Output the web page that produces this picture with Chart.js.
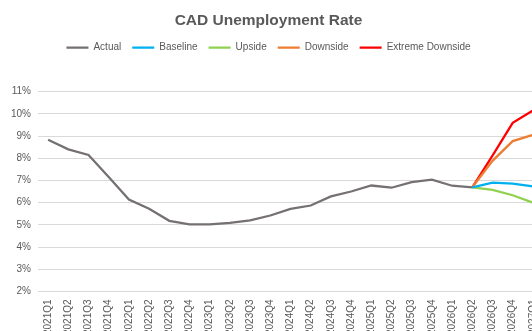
<!DOCTYPE html>
<html>
<head>
<meta charset="utf-8">
<script src="https://cdn.jsdelivr.net/npm/chart.js@4.4.1/dist/chart.umd.min.js"></script>
<style>
  html, body { margin: 0; padding: 0; background: #fff; overflow: hidden; }
  #wrap { position: relative; width: 532px; height: 331px; overflow: hidden; }
  #wrap canvas { position: absolute; left: 0; top: 0; }
</style>
</head>
<body>
<div id="wrap"><canvas id="chart" width="543" height="343"></canvas></div>
<script>
const quarters = [
  '2021Q1', '2021Q2', '2021Q3', '2021Q4', '2022Q1', '2022Q2', '2022Q3', '2022Q4',
  '2023Q1', '2023Q2', '2023Q3', '2023Q4', '2024Q1', '2024Q2', '2024Q3', '2024Q4',
  '2025Q1', '2025Q2', '2025Q3', '2025Q4', '2026Q1', '2026Q2', '2026Q3', '2026Q4', '2027Q1'
]
const forecastQuarters = ['2026Q2', '2026Q3', '2026Q4', '2027Q1']

// percent
const actual = [
  8.83, 8.4, 8.15, 7.15, 6.14, 5.72, 5.18, 5.02,
  5.02, 5.09, 5.2, 5.42, 5.72, 5.87, 6.28, 6.5,
  6.77, 6.67, 6.92, 7.03, 6.76, 6.69
]
const baseline = [6.69, 6.9, 6.85, 6.73]
const upside = [6.69, 6.57, 6.33, 6.0]
const downside = [6.69, 7.88, 8.77, 9.05]
const extremeDownside = [6.69, 8.12, 9.59, 10.15]

const yTicks = [2, 3, 4, 5, 6, 7, 8, 9, 10, 11]

const textColor = '#595959'
const gridColor = '#d9d9d9'
const fontFamily = '"Liberation Sans", Arial, sans-serif'

const forecast = values => values.map((v, i) => ({x: forecastQuarters[i], y: v}))

const line = (label, data, color) => ({
  label,
  data,
  borderColor: color,
  backgroundColor: color,
  borderWidth: 2.25,
  pointRadius: 0,
  tension: 0,
  fill: false
})

// the picture is cut off on the right, so the plot runs past the window;
// nudge title and legend back so they stay centred on the visible part
const shiftHeader = {
  id: 'shiftHeader',
  beforeInit(chart) {
    const fit = chart.legend.fit
    chart.legend.fit = function () {
      fit.bind(chart.legend)()
      this.height += 29
    }
  },
  afterLayout(chart) {
    const dx = -5
    for (const box of [chart.titleBlock, chart.legend]) {
      if (!box) continue
      box.left += dx
      box.right += dx
    }
  }
}

Chart.defaults.font.family = fontFamily
Chart.defaults.color = textColor

new Chart(document.getElementById('chart').getContext('2d'), {
  type: 'line',
  data: {
    labels: quarters,
    datasets: [
      line('Actual', actual, '#767171'),
      line('Baseline', forecast(baseline), '#00b0f0'),
      line('Upside', forecast(upside), '#92d050'),
      line('Downside', forecast(downside), '#ed7d31'),
      line('Extreme Downside', forecast(extremeDownside), '#ff0000')
    ]
  },
  options: {
    responsive: false,
    animation: false,
    layout: {
      autoPadding: false,
      padding: {left: 4, right: 0, top: 0, bottom: 0}
    },
    plugins: {
      title: {
        display: true,
        text: 'CAD Unemployment Rate',
        color: textColor,
        font: {size: 15.5, weight: 'bold', family: fontFamily},
        padding: {top: 11, bottom: 2}
      },
      legend: {
        position: 'top',
        labels: {
          usePointStyle: true,
          pointStyle: 'line',
          pointStyleWidth: 22,
          boxHeight: 10,
          padding: 11,
          color: textColor,
          font: {size: 10, family: fontFamily}
        }
      },
      tooltip: {enabled: false}
    },
    scales: {
      x: {
        offset: true,
        grid: {display: false, drawTicks: false},
        border: {display: false},
        afterFit: axis => {
          axis.paddingLeft = 0
          axis.paddingRight = 0
        },
        ticks: {
          minRotation: 90,
          maxRotation: 90,
          autoSkip: false,
          padding: 8,
          color: textColor,
          font: {size: 10, family: fontFamily}
        }
      },
      y: {
        min: yTicks[0],
        max: yTicks[yTicks.length - 1],
        afterBuildTicks: axis => {
          axis.ticks = yTicks.map(v => ({value: v}))
        },
        grid: {color: gridColor, lineWidth: 1, drawTicks: false},
        border: {display: false},
        ticks: {
          padding: 7,
          color: textColor,
          font: {size: 10, family: fontFamily},
          callback: v => v + '%'
        }
      }
    }
  },
  plugins: [shiftHeader]
})
</script>
</body>
</html>
